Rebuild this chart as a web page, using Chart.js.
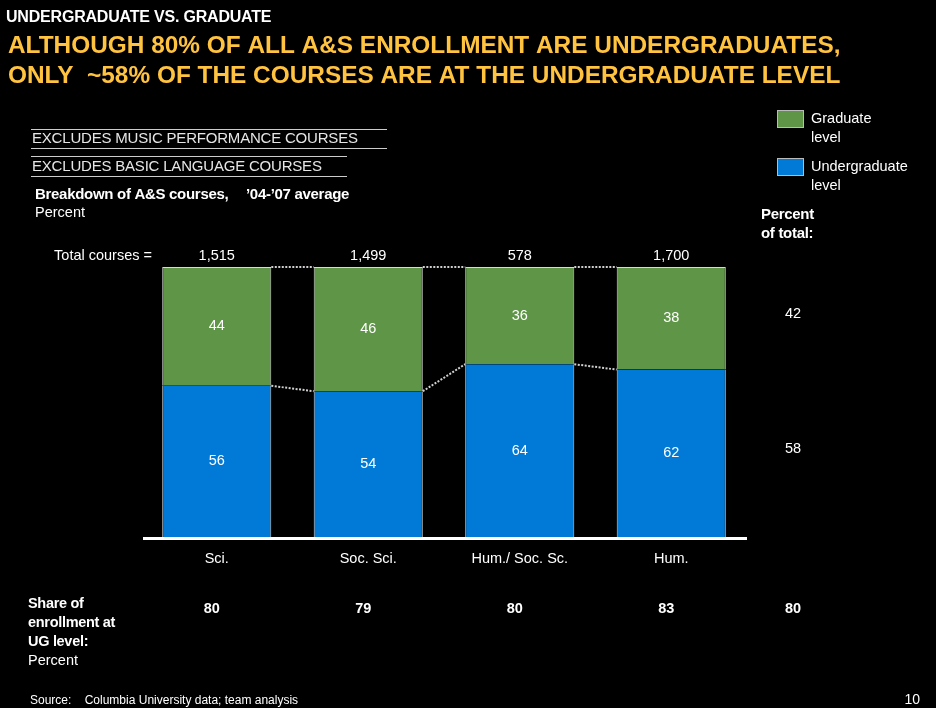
<!DOCTYPE html>
<html>
<head>
<meta charset="utf-8">
<script src="https://cdn.jsdelivr.net/npm/chart.js@4/dist/chart.umd.min.js"></script>
<style>
  html, body { margin: 0; padding: 0; background: #000; }
  #wrap { position: relative; width: 936px; height: 708px; }
</style>
</head>
<body>
<div id="wrap"><canvas id="courses" width="936" height="708"></canvas></div>
<script>
// course mix by division, '04-'07 average
const categories = ['Sci.', 'Soc. Sci.', 'Hum./ Soc. Sc.', 'Hum.'];
const undergradShare = [56, 54, 64, 62];
const gradShare = [44, 46, 36, 38];
const totalCourses = [1515, 1499, 578, 1700];
const ugEnrollment = [80, 79, 80, 83];
const totalGrad = 42;
const totalUndergrad = 58;
const totalUgEnrollment = 80;

const GREEN = '#5e9546';
const BLUE = '#007ad6';
const FONT = '"Liberation Sans", Arial, sans-serif';
const BODY = 14.5;

function text(ctx, str, x, y, opts) {
    opts = opts || {};
    ctx.save();
    ctx.font = (opts.bold ? 'bold ' : '') + (opts.size || BODY) + 'px ' + FONT;
    ctx.fillStyle = opts.color || '#fff';
    ctx.textAlign = opts.align || 'left';
    ctx.textBaseline = 'middle';
    if (opts.spacing) ctx.letterSpacing = opts.spacing + 'px';
    ctx.fillText(str, x, y);
    ctx.restore();
}

function hline(ctx, x1, x2, y, color, w) {
    ctx.save();
    ctx.strokeStyle = color;
    ctx.lineWidth = w;
    ctx.beginPath();
    ctx.moveTo(x1, y);
    ctx.lineTo(x2, y);
    ctx.stroke();
    ctx.restore();
}

// headings, notes, connectors and side tables
const slideText = {
    id: 'slideText',
    afterDatasetsDraw(chart) {
        const ctx = chart.ctx;
        const x = chart.scales.x;
        const y = chart.scales.y;
        const ug = chart.getDatasetMeta(0).data;
        const gr = chart.getDatasetMeta(1).data;

        text(ctx, 'UNDERGRADUATE VS. GRADUATE', 6, 18, { bold: true, size: 16, spacing: -0.2 });
        text(ctx, 'ALTHOUGH 80% OF ALL A&S ENROLLMENT ARE UNDERGRADUATES,', 8, 46, { bold: true, size: 24.4, color: '#ffc340' });
        text(ctx, 'ONLY  ~58% OF THE COURSES ARE AT THE UNDERGRADUATE LEVEL', 8, 76, { bold: true, size: 24.4, color: '#ffc340' });

        hline(ctx, 31, 387, 129.5, '#ccc', 1);
        text(ctx, 'EXCLUDES MUSIC PERFORMANCE COURSES', 32, 139, { size: 15, spacing: -0.2, color: '#e6e6e6' });
        hline(ctx, 31, 387, 148.5, '#ccc', 1);
        hline(ctx, 31, 347, 156.5, '#ccc', 1);
        text(ctx, 'EXCLUDES BASIC LANGUAGE COURSES', 32, 167, { size: 15, spacing: -0.2, color: '#e6e6e6' });
        hline(ctx, 31, 347, 176.5, '#ccc', 1);

        text(ctx, 'Breakdown of A&S courses,', 35, 195, { bold: true, size: 15, spacing: -0.3 });
        text(ctx, '\u201904-\u201907 average', 246, 195, { bold: true, size: 15, spacing: -0.3 });
        text(ctx, 'Percent', 35, 213);

        // legend
        ctx.save();
        ctx.fillStyle = GREEN;
        ctx.fillRect(777, 110, 26, 17);
        ctx.strokeStyle = '#bbb';
        ctx.strokeRect(777.5, 110.5, 26, 17);
        ctx.fillStyle = BLUE;
        ctx.fillRect(777, 158, 26, 17);
        ctx.strokeRect(777.5, 158.5, 26, 17);
        ctx.restore();
        text(ctx, 'Graduate', 811, 119);
        text(ctx, 'level', 811, 138);
        text(ctx, 'Undergraduate', 811, 167);
        text(ctx, 'level', 811, 186);

        text(ctx, 'Percent', 761, 215, { bold: true, size: 15, spacing: -0.3 });
        text(ctx, 'of total:', 761, 234, { bold: true, size: 15, spacing: -0.3 });
        text(ctx, String(totalGrad), 793, y.getPixelForValue(100 - totalGrad / 2) - 10, { align: 'center' });
        text(ctx, String(totalUndergrad), 793, y.getPixelForValue(totalUndergrad / 2) - 10, { align: 'center' });

        // dotted connectors between neighbouring bars
        ctx.save();
        ctx.strokeStyle = '#d0d0d0';
        ctx.lineWidth = 2;
        ctx.setLineDash([2, 1.5]);
        for (let i = 0; i < ug.length - 1; i++) {
            const a = ug[i], b = ug[i + 1];
            const r = a.x + a.width / 2, l = b.x - b.width / 2;
            ctx.beginPath();
            ctx.moveTo(r, y.getPixelForValue(100));
            ctx.lineTo(l, y.getPixelForValue(100));
            ctx.moveTo(r, a.y);
            ctx.lineTo(l, b.y);
            ctx.stroke();
        }
        ctx.restore();

        // totals above bars, values inside bars
        text(ctx, 'Total courses =', 152, 256, { align: 'right' });
        categories.forEach((c, i) => {
            const cx = x.getPixelForValue(i);
            text(ctx, totalCourses[i].toLocaleString('en-US'), cx, 256, { align: 'center' });
            text(ctx, String(gradShare[i]), cx, (gr[i].y + gr[i].base) / 2, { align: 'center' });
            text(ctx, String(undergradShare[i]), cx, (ug[i].y + ug[i].base) / 2, { align: 'center' });
            text(ctx, c, cx, 559, { align: 'center' });
            text(ctx, String(ugEnrollment[i]), cx - 5, 609, { bold: true, align: 'center' });
        });

        // baseline
        hline(ctx, 143, x.right, y.getPixelForValue(0) + 1.5, '#fff', 3);

        text(ctx, String(totalUgEnrollment), 793, 609, { bold: true, align: 'center' });
        text(ctx, 'Share of', 28, 604, { bold: true, spacing: -0.3 });
        text(ctx, 'enrollment at', 28, 623, { bold: true, spacing: -0.3 });
        text(ctx, 'UG level:', 28, 642, { bold: true, spacing: -0.3 });
        text(ctx, 'Percent', 28, 661);

        text(ctx, 'Source:    Columbia University data; team analysis', 30, 701, { size: 12 });
        text(ctx, '10', 920, 700, { size: 14, align: 'right' });
    }
};

new Chart(document.getElementById('courses'), {
    type: 'bar',
    data: {
        labels: categories,
        datasets: [
            { label: 'Undergraduate level', data: undergradShare, backgroundColor: BLUE, borderColor: '#d8d8d8', borderWidth: { left: 1, right: 1, top: 0, bottom: 0 } },
            { label: 'Graduate level', data: gradShare, backgroundColor: GREEN, borderColor: '#d8d8d8', borderWidth: { left: 1, right: 1, top: 1, bottom: 2 } }
        ]
    },
    options: {
        responsive: false,
        animation: false,
        events: [],
        layout: { padding: { left: 141, right: 189, top: 267, bottom: 171 } },
        datasets: { bar: { barPercentage: 0.72, categoryPercentage: 1 } },
        plugins: { legend: { display: false }, tooltip: { enabled: false } },
        scales: {
            x: { stacked: true, display: false },
            y: { stacked: true, display: false, min: 0, max: 100 }
        }
    },
    plugins: [slideText]
});
</script>
</body>
</html>
